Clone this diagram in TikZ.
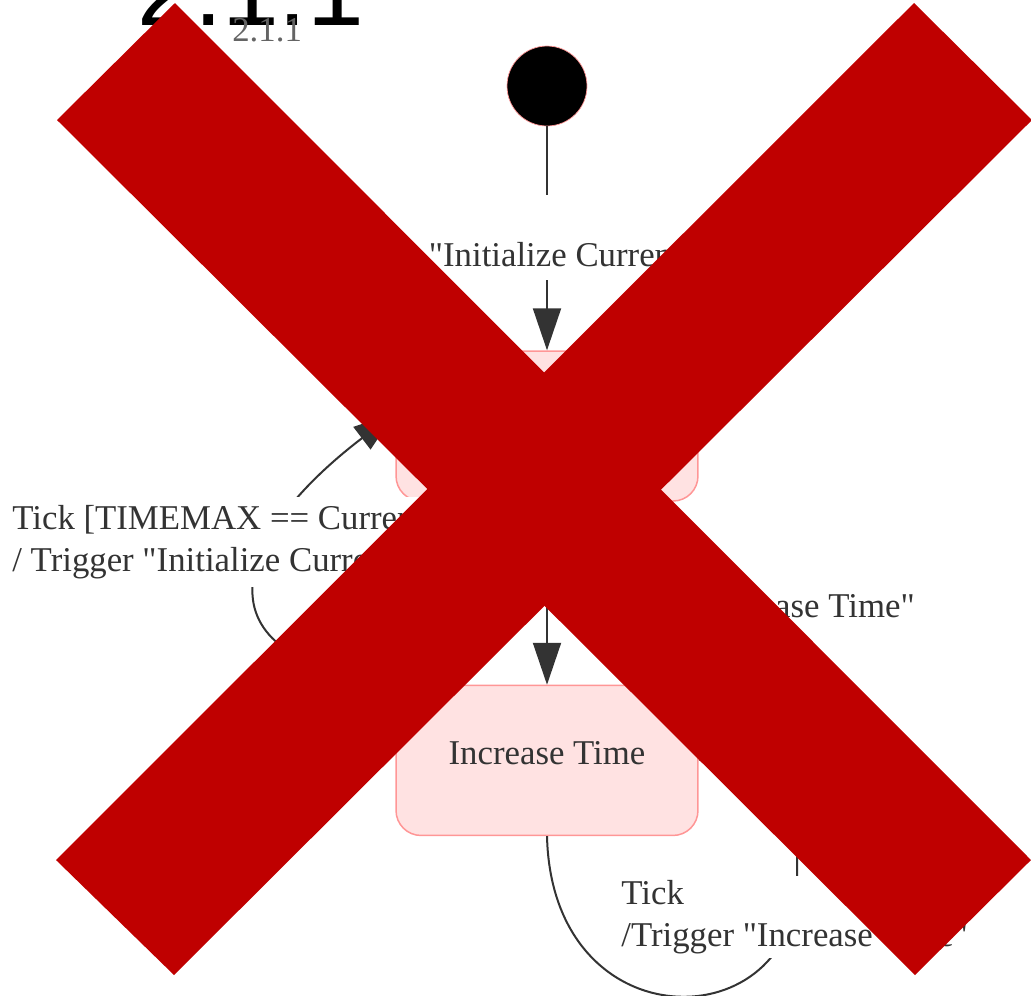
\documentclass[tikz,border=0pt]{standalone}
\usepackage{fontspec}
\setmainfont{Liberation Serif}
\newfontfamily\headfont{Liberation Sans}
% plain font load, so that " stays a straight quote
\font\lbfont="Liberation Serif" at 19.8pt
\newcommand{\lblfont}{\lbfont\setlength{\baselineskip}{23.9pt}}
\usepackage{xcolor}
\usepackage{tikz}
\usetikzlibrary{arrows.meta,positioning}

\definecolor{statefill}{RGB}{255,226,226}
\definecolor{stateline}{RGB}{255,150,150}
\definecolor{txtgray}{RGB}{51,51,51}
\definecolor{numgray}{RGB}{100,100,100}
\definecolor{xred}{RGB}{191,0,0}

\begin{document}
\begin{tikzpicture}[
    x=0.02cm, y=-0.02cm,
    font=\lblfont,
    startstate/.style={circle, draw=stateline, fill=black, minimum size=1.6cm, inner sep=0pt},
    state/.style={rectangle, rounded corners=0.5cm, draw=stateline, fill=statefill, line width=0.03cm, minimum width=6.04cm, minimum height=3cm, text=txtgray, text depth=0.3cm},
    edge/.style={draw=txtgray, line width=0.04cm, -{Triangle[length=0.84cm, width=0.56cm]}},
    lbl/.style={fill=white, text=txtgray, inner sep=0pt}
]
\useasboundingbox (0,0) rectangle (1031,995);
\clip (0,0) rectangle (1031,995);

% heading
\node[anchor=base west, inner sep=0pt, font=\headfont\fontsize{58pt}{66pt}\selectfont] (heading) at (137,25) {2.1.1};
\node[anchor=base west, inner sep=0pt, text=numgray] (secnum) at (232,41) {2.1.1};

% states
\node[startstate] (start) at (547,86) {};
\node[state, below=4.48cm of start] (initcur) {};
\node[state, below=3.66cm of initcur] (inctime) {Increase Time};

% transitions
\draw[edge] (start) -- (initcur);
\draw[edge] (initcur) -- (inctime);
\draw[edge] (inctime.150) .. controls (192,668) and (222,545) .. (initcur.175);
\draw[edge] (inctime.south) .. controls (552,1045) and (797,1040) .. (797,880)
    -- (797,820) .. controls (797,775) and (770,756) .. (inctime.east);

% transition labels
\node[lbl, anchor=base, text height=1.42cm, text depth=0.28cm, inner xsep=0.06cm] (lblstart) at (547,266) {Trigger "Initialize Current Time"};
\node[lbl, anchor=north west, align=left, inner xsep=0.06cm, inner ysep=0.16cm] (lblreset) at (9,497) {Tick [TIMEMAX == CurrentTime]\\/ Trigger "Initialize Current Time"};
\node[lbl, anchor=base east, inner sep=0.06cm] (lblinc) at (918,617) {/Trigger "Increase Time"};
\node[lbl, anchor=north west, align=left, inner sep=0.08cm] (lblloop) at (617,876) {Tick\\/Trigger "Increase Time"};

% cross-out
\fill[xred] (57,120) -- (175,3) -- (1031,860) -- (915,975) -- cycle;
\fill[xred] (914,3) -- (1032,120) -- (174,975) -- (56,860) -- cycle;
\end{tikzpicture}
\end{document}
